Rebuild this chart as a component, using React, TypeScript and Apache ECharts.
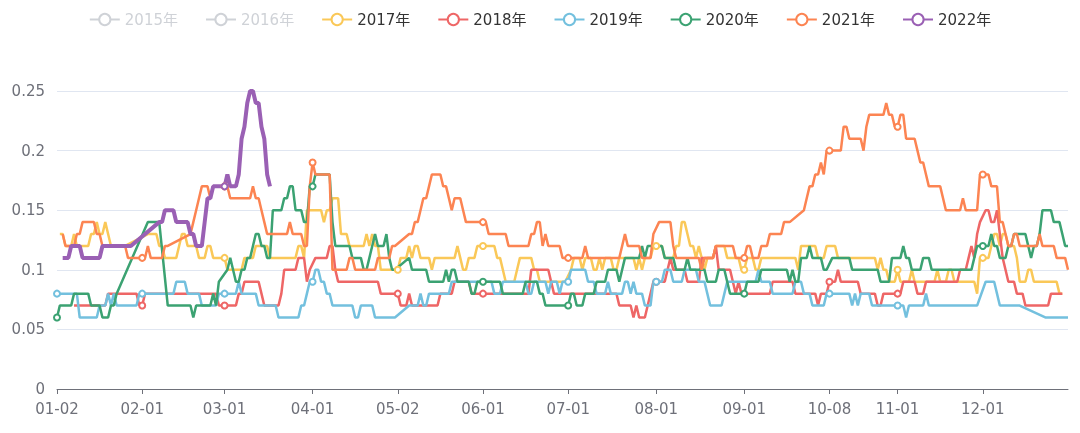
import React, { useEffect, useRef } from 'react';
import * as echarts from 'echarts';

// ---- categories (MM-DD, union of trading days) ----
const MONTH_DAYS = [31, 29, 31, 30, 31, 30, 31, 31, 30, 31, 30, 31];
const CLOSED_DAYS = ['01-01', '05-01', '10-01', '10-02', '10-03', '10-04', '10-05', '10-06', '10-07'];

function buildCategories(): string[] {
  const out: string[] = [];
  MONTH_DAYS.forEach((n, m) => {
    for (let d = 1; d <= n; d++) {
      const s = String(m + 1).padStart(2, '0') + '-' + String(d).padStart(2, '0');
      if (!CLOSED_DAYS.includes(s)) out.push(s);
    }
  });
  return out;
}
const categories = buildCategories();

const YEARS = ['2015年', '2016年', '2017年', '2018年', '2019年', '2020年', '2021年', '2022年'];
const COLORS = ['#5470c6', '#91cc75', '#fac858', '#ee6666', '#73c0de', '#3ba272', '#fc8452', '#9a60b4'];
const HIDDEN_YEARS = ['2015年', '2016年'];

// ---- series values: [start category index, value] steps, value holds until next step ----
type Step = [number, number | null];

const v2015: Step[] = [];
const v2016: Step[] = [];

const v2017: Step[] = [
  [0, null], [1, 0.13], [3, 0.12], [6, 0.13], [7, 0.12], [12, 0.13], [14, 0.14], [15, 0.13], [17, 0.14], [18, 0.13],
  [19, 0.12], [25, null], [32, 0.13], [36, 0.12], [38, 0.11], [43, 0.12], [44, 0.13], [46, 0.12], [50, 0.11], [53, 0.12],
  [55, 0.11], [60, 0.1], [66, 0.11], [70, 0.12], [75, 0.11], [85, 0.12], [87, 0.11], [88, 0.15], [90, null], [91, 0.15],
  [94, 0.14], [95, 0.15], [97, 0.16], [100, 0.13], [103, 0.12], [109, 0.13], [110, 0.12], [111, 0.13], [112, 0.12], [114, 0.1],
  [118, null], [120, 0.1], [121, 0.11], [124, 0.12], [125, 0.11], [126, 0.12], [128, 0.11], [132, 0.1], [133, 0.11], [141, 0.12],
  [142, 0.11], [143, 0.1], [145, 0.11], [148, 0.12], [155, 0.11], [157, 0.1], [158, 0.09], [162, 0.1], [163, 0.11], [168, 0.1],
  [170, 0.09], [180, null], [181, 0.1], [182, 0.11], [185, 0.1], [186, 0.11], [189, 0.1], [191, 0.11], [192, 0.1], [193, 0.11],
  [196, 0.1], [198, 0.11], [204, 0.1], [205, 0.11], [206, 0.1], [207, 0.11], [210, 0.12], [214, 0.11], [218, 0.12], [220, 0.14],
  [222, 0.13], [223, 0.12], [225, 0.11], [226, 0.12], [227, 0.11], [228, 0.1], [229, 0.11], [232, 0.12], [236, 0.11], [241, 0.1],
  [243, 0.11], [246, 0.1], [248, 0.11], [261, 0.1], [262, 0.12], [268, 0.11], [271, 0.12], [272, null], [273, 0.12], [275, 0.11],
  [289, 0.1], [290, 0.11], [291, 0.1], [293, 0.09], [296, 0.1], [297, 0.09], [301, 0.1], [302, 0.09], [310, 0.1], [311, 0.09],
  [314, 0.1], [316, 0.09], [324, 0.08], [325, 0.11], [329, 0.12], [330, 0.13], [332, 0.12], [333, 0.13], [335, 0.12], [338, 0.11],
  [339, 0.09], [342, 0.1], [344, 0.09], [353, 0.08], [355, null],
];

const v2018: Step[] = [
  [0, null], [6, 0.07], [18, 0.08], [29, 0.07], [31, 0.08], [44, null], [51, 0.08], [57, 0.07], [64, 0.08], [66, 0.09],
  [72, 0.08], [73, 0.07], [79, 0.08], [80, 0.1], [85, 0.11], [88, 0.09], [89, 0.1], [90, null], [91, 0.11], [96, 0.12],
  [98, 0.1], [99, 0.09], [114, 0.08], [119, null], [120, 0.08], [121, 0.07], [124, 0.08], [125, 0.07], [135, 0.08], [140, 0.09],
  [146, 0.08], [167, 0.1], [174, 0.09], [175, 0.08], [180, null], [181, 0.08], [198, 0.07], [203, 0.06], [204, 0.07], [205, 0.06],
  [208, 0.07], [209, 0.08], [210, 0.09], [215, 0.1], [216, 0.11], [217, 0.1], [222, 0.09], [227, 0.11], [232, 0.12], [233, 0.1],
  [238, 0.09], [239, 0.08], [240, 0.09], [241, 0.08], [242, null], [243, 0.08], [252, 0.09], [260, 0.08], [268, 0.07], [269, 0.08],
  [272, 0.09], [275, 0.1], [276, 0.09], [283, 0.08], [289, 0.07], [291, 0.08], [298, 0.09], [303, 0.08], [306, 0.09], [318, 0.1],
  [321, 0.11], [322, 0.12], [323, 0.11], [324, 0.13], [325, 0.14], [326, null], [327, 0.15], [329, 0.14], [331, 0.15], [332, 0.13],
  [333, 0.11], [334, 0.1], [335, 0.09], [338, 0.08], [341, 0.07], [350, 0.08], [355, null],
];

const v2019: Step[] = [
  [0, 0.08], [8, 0.06], [15, 0.07], [18, 0.08], [19, 0.07], [20, 0.08], [21, 0.07], [29, 0.08], [31, null], [40, 0.08],
  [42, 0.09], [46, 0.08], [51, 0.07], [57, 0.08], [64, 0.09], [65, 0.08], [71, 0.07], [78, 0.06], [86, 0.07], [88, 0.08],
  [89, 0.09], [91, 0.1], [93, 0.09], [95, 0.08], [97, 0.07], [105, 0.06], [107, 0.07], [112, 0.06], [120, null], [124, 0.07],
  [128, 0.08], [129, 0.07], [131, 0.08], [139, 0.09], [150, null], [151, 0.09], [154, 0.08], [157, 0.09], [166, 0.08], [168, 0.09],
  [173, 0.08], [174, 0.09], [177, 0.08], [178, 0.09], [181, 0.1], [187, 0.09], [190, 0.08], [194, 0.09], [195, 0.08], [200, 0.09],
  [202, 0.08], [203, 0.09], [204, 0.08], [207, 0.07], [210, 0.09], [214, 0.1], [217, 0.09], [221, 0.1], [226, 0.09], [229, 0.08],
  [230, 0.07], [235, 0.08], [236, 0.09], [242, null], [243, 0.09], [247, 0.1], [248, 0.09], [252, 0.08], [260, 0.09], [263, 0.08],
  [266, 0.07], [271, 0.08], [280, 0.07], [281, 0.08], [282, 0.07], [283, 0.08], [287, 0.07], [299, 0.06], [300, 0.07], [306, 0.08],
  [307, 0.07], [325, null], [327, 0.09], [331, 0.08], [332, 0.07], [340, null], [348, 0.06],
];

const v2020: Step[] = [
  [0, 0.06], [1, 0.07], [6, 0.08], [12, 0.07], [16, 0.06], [19, 0.07], [21, 0.08], [22, null], [32, 0.14], [37, null],
  [39, 0.07], [48, 0.06], [49, 0.07], [55, 0.08], [56, 0.07], [57, 0.09], [58, null], [60, 0.1], [61, 0.11], [62, 0.1],
  [63, 0.09], [65, 0.1], [67, 0.11], [69, 0.12], [70, 0.13], [72, 0.12], [74, 0.11], [76, 0.15], [80, 0.16], [82, 0.17],
  [84, 0.15], [87, 0.14], [89, 0.17], [91, 0.18], [97, 0.14], [98, 0.12], [104, 0.11], [108, 0.1], [110, 0.11], [111, 0.12],
  [112, 0.13], [113, 0.12], [116, 0.13], [117, 0.11], [118, 0.1], [120, null], [124, 0.11], [125, 0.1], [131, 0.09], [137, 0.1],
  [138, 0.09], [139, 0.1], [141, 0.09], [146, 0.08], [148, 0.09], [157, 0.08], [165, 0.09], [170, 0.08], [172, 0.07], [181, 0.08],
  [183, 0.07], [186, 0.08], [190, 0.09], [194, 0.1], [198, 0.09], [199, 0.1], [200, 0.11], [206, 0.12], [207, 0.11], [208, 0.12],
  [211, null], [212, 0.12], [214, 0.11], [218, 0.1], [222, 0.11], [223, 0.1], [229, 0.09], [233, 0.1], [236, 0.09], [237, 0.08],
  [243, 0.09], [248, 0.1], [258, 0.09], [259, 0.1], [260, 0.09], [262, 0.11], [265, 0.12], [266, 0.11], [270, 0.1], [272, null],
  [273, 0.11], [280, 0.1], [290, 0.09], [294, 0.11], [296, null], [297, 0.11], [298, 0.12], [299, 0.11], [301, 0.1], [305, 0.11],
  [308, 0.1], [323, 0.11], [324, 0.12], [329, 0.13], [330, 0.12], [332, 0.11], [335, 0.12], [337, 0.13], [342, 0.12], [343, 0.11],
  [344, 0.12], [346, 0.13], [347, 0.15], [351, 0.14], [354, 0.13], [355, 0.12],
];

const v2021: Step[] = [
  [0, null], [2, 0.13], [3, 0.12], [7, 0.13], [9, 0.14], [14, 0.13], [16, 0.12], [25, 0.11], [32, 0.12], [33, 0.11],
  [38, 0.12], [40, null], [47, 0.13], [48, 0.14], [49, 0.15], [50, 0.16], [51, 0.17], [54, 0.16], [55, 0.17], [61, 0.16],
  [69, 0.17], [70, 0.16], [72, 0.15], [73, 0.14], [74, 0.13], [82, 0.14], [83, 0.13], [87, 0.12], [89, 0.17], [90, 0.19],
  [91, 0.18], [97, 0.1], [103, 0.11], [105, 0.1], [113, 0.11], [118, 0.12], [120, null], [124, 0.13], [126, 0.14], [128, 0.15],
  [129, 0.16], [131, 0.17], [132, 0.18], [136, 0.17], [138, 0.16], [139, 0.15], [140, 0.16], [143, 0.15], [144, 0.14], [152, 0.13],
  [159, 0.12], [167, 0.13], [169, 0.14], [171, 0.12], [172, 0.13], [173, 0.12], [178, 0.11], [186, 0.12], [187, 0.11], [199, 0.12],
  [200, 0.13], [201, 0.12], [206, 0.11], [210, 0.13], [211, null], [212, 0.14], [217, 0.12], [218, 0.11], [227, 0.1], [228, 0.11],
  [232, 0.12], [239, 0.11], [243, 0.12], [245, 0.11], [248, 0.12], [251, 0.13], [256, 0.14], [259, null], [263, 0.15], [264, 0.16],
  [265, 0.17], [267, 0.18], [269, 0.19], [270, 0.18], [271, 0.2], [277, 0.22], [279, 0.21], [284, 0.2], [285, 0.22], [286, 0.23],
  [292, 0.24], [293, 0.23], [295, 0.22], [297, 0.23], [299, 0.21], [303, 0.2], [304, 0.19], [306, 0.18], [307, 0.17], [312, 0.16],
  [313, 0.15], [319, 0.16], [320, 0.15], [325, 0.18], [329, 0.17], [332, 0.14], [334, 0.13], [335, 0.12], [337, 0.13], [339, 0.12],
  [346, 0.13], [347, 0.12], [352, 0.11], [356, 0.1],
];

const v2022: Step[] = [
  [0, null], [2, 0.11], [5, 0.12], [9, 0.11], [16, 0.12], [27, null], [36, 0.14], [38, 0.15], [42, 0.14], [47, 0.13],
  [49, 0.12], [52, 0.14], [53, 0.16], [55, 0.17], [60, 0.18], [61, 0.17], [64, 0.18], [65, 0.21], [66, 0.22], [67, 0.24],
  [68, 0.25], [70, 0.24], [72, 0.22], [73, 0.21], [74, 0.18], [75, 0.17], [76, null],
];

const SERIES_STEPS: Step[][] = [v2015, v2016, v2017, v2018, v2019, v2020, v2021, v2022];

function expand(steps: Step[], n: number): (number | null)[] {
  const out: (number | null)[] = new Array(n).fill(null);
  for (let k = 0; k < steps.length; k++) {
    const [start, val] = steps[k];
    const end = k + 1 < steps.length ? steps[k + 1][0] : n;
    for (let i = start; i < end && i < n; i++) out[i] = val;
  }
  return out;
}

const labelIdx = new Set<number>();
categories.forEach((c, i) => {
  if (i === 0 || c.slice(0, 2) !== categories[i - 1].slice(0, 2)) labelIdx.add(i);
});
const showTick = (i: number) => labelIdx.has(i);

const FONT = "'DejaVu Sans', 'Noto Sans CJK SC', sans-serif";

export default function App() {
  const ref = useRef<HTMLDivElement>(null);
  useEffect(() => {
    if (!ref.current) return;
    const chart = echarts.init(ref.current, undefined, { renderer: 'svg' });
    const n = categories.length;
    const selected: Record<string, boolean> = {};
    YEARS.forEach((y) => (selected[y] = !HIDDEN_YEARS.includes(y)));
    chart.setOption({
      animation: false,
      color: COLORS,
      textStyle: { fontFamily: FONT },
      legend: {
        data: YEARS,
        selected,
        top: 7,
        left: 'center',
        itemWidth: 30,
        itemHeight: 14,
        itemGap: 27,
        textStyle: { fontSize: 15, color: '#333', fontFamily: FONT },
      },
      grid: { left: 57, right: 12, top: 91, bottom: 44, containLabel: false },
      xAxis: {
        type: 'category',
        data: categories,
        boundaryGap: false,
        axisLine: { lineStyle: { color: '#6E7079' } },
        axisTick: { interval: (i: number) => showTick(i), length: 5 },
        axisLabel: {
          interval: (i: number) => showTick(i),
          fontSize: 15,
          color: '#6E7079',
          margin: 12,
          fontFamily: FONT,
        },
      },
      yAxis: {
        type: 'value',
        min: 0,
        max: 0.25,
        interval: 0.05,
        axisLabel: { fontSize: 15, color: '#6E7079', margin: 12, fontFamily: FONT },
        splitLine: { lineStyle: { color: '#E0E6F1' } },
      },
      series: YEARS.map((name, k) => ({
        name,
        type: 'line',
        data: expand(SERIES_STEPS[k], n),
        connectNulls: true,
        symbol: 'emptyCircle',
        symbolSize: 6,
        lineStyle: { width: name === '2022年' ? 4 : 2.5 },
        itemStyle: { color: COLORS[k] },
      })),
    });
    return () => chart.dispose();
  }, []);
  return (
    <div
      ref={ref}
      style={{ position: 'fixed', left: 0, top: 0, width: 1080, height: 433 }}
    />
  );
}
